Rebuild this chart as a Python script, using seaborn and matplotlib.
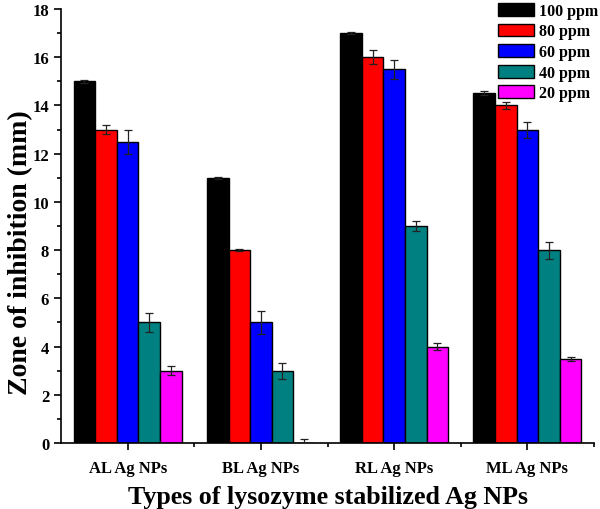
import matplotlib
matplotlib.use("Agg")
import matplotlib.pyplot as plt
from matplotlib.ticker import MultipleLocator, FixedLocator
import seaborn as sns
import pandas as pd
import numpy as np

groups = ["AL Ag NPs", "BL Ag NPs", "RL Ag NPs", "ML Ag NPs"]
concs = ["100 ppm", "80 ppm", "60 ppm", "40 ppm", "20 ppm"]
colors = ["#000000", "#FF0000", "#0000FF", "#008080", "#FF00FF"]

val_100 = [15.0, 11.0, 17.0, 14.5]
val_80 = [13.0, 8.0, 16.0, 14.0]
val_60 = [12.5, 5.0, 15.5, 13.0]
val_40 = [5.0, 3.0, 9.0, 8.0]
val_20 = [3.0, 0.0, 4.0, 3.5]

err_100 = [0.05, 0.05, 0.04, 0.08]
err_80 = [0.2, 0.05, 0.3, 0.16]
err_60 = [0.5, 0.47, 0.4, 0.33]
err_40 = [0.4, 0.33, 0.2, 0.35]
err_20 = [0.2, 0.15, 0.15, 0.08]

values = [val_100, val_80, val_60, val_40, val_20]
errors = [err_100, err_80, err_60, err_40, err_20]

rows = []
for c, vals in zip(concs, values):
    for g, v in zip(groups, vals):
        rows.append({"group": g, "conc": c, "value": v})
df = pd.DataFrame(rows)

sns.set_style("ticks")
plt.rcParams["font.family"] = ["Liberation Serif", "DejaVu Serif"]
plt.rcParams["font.weight"] = "bold"
for key in ["text.color", "axes.labelcolor", "xtick.color", "ytick.color",
            "axes.edgecolor"]:
    plt.rcParams[key] = "black"

fig = plt.figure(figsize=(6.0, 5.1), dpi=100)
ax = fig.add_axes([0.1017, 0.1294, 0.8883, 0.8510])

sns.barplot(data=df, x="group", y="value", hue="conc", order=groups,
            hue_order=concs, palette=colors, width=0.81, edgecolor="black",
            linewidth=1.0, errorbar=None, ax=ax, saturation=1)

for cont, errs in zip(ax.containers, errors):
    xs = [p.get_x() + p.get_width() / 2 for p in cont.patches]
    hs = [p.get_height() for p in cont.patches]
    ax.errorbar(xs, hs, yerr=errs, fmt="none", ecolor="#222222",
                elinewidth=0.9, capsize=3, capthick=0.9, zorder=5)

ax.set_xlim(-0.5, 3.5)
ax.set_ylim(0, 18)
ax.yaxis.set_major_locator(MultipleLocator(2))
ax.yaxis.set_minor_locator(MultipleLocator(1))
ax.xaxis.set_minor_locator(FixedLocator([0.5, 1.5, 2.5, 3.5]))

sns.despine(ax=ax, top=True, right=True)
for s in ["left", "bottom"]:
    ax.spines[s].set_linewidth(1.2)
    ax.spines[s].set_color("black")
ax.tick_params(axis="both", which="major", direction="out", length=5, width=1.2,
               color="black", labelcolor="black")
ax.tick_params(axis="both", which="minor", direction="out", length=3, width=1.2,
               color="black")
ax.tick_params(axis="y", labelsize=12)
ax.tick_params(axis="x", labelsize=12, pad=7)
for lab in ax.get_xticklabels() + ax.get_yticklabels():
    lab.set_fontweight("bold")

ax.set_xlabel("Types of lysozyme stabilized Ag NPs", fontsize=18.7,
              fontweight="bold", color="black")
ax.set_ylabel("Zone of inhibition (mm)", fontsize=20, fontweight="bold",
              color="black")
ax.yaxis.set_label_coords(-0.053, 0.44)
ax.xaxis.set_label_coords(0.5, -0.097)

leg = ax.legend(loc="upper left", bbox_to_anchor=(497 / 600, 0.994),
                bbox_transform=fig.transFigure, frameon=False,
                prop={"size": 11.5, "weight": "bold"}, handlelength=2.25,
                handleheight=0.85, labelspacing=0.29, handletextpad=0.35,
                borderaxespad=0.0, borderpad=0.05)
for h in leg.legend_handles:
    h.set_edgecolor("black")
    h.set_linewidth(1.0)
for t in leg.get_texts():
    t.set_color("black")

fig.savefig("out.png", dpi=100)
